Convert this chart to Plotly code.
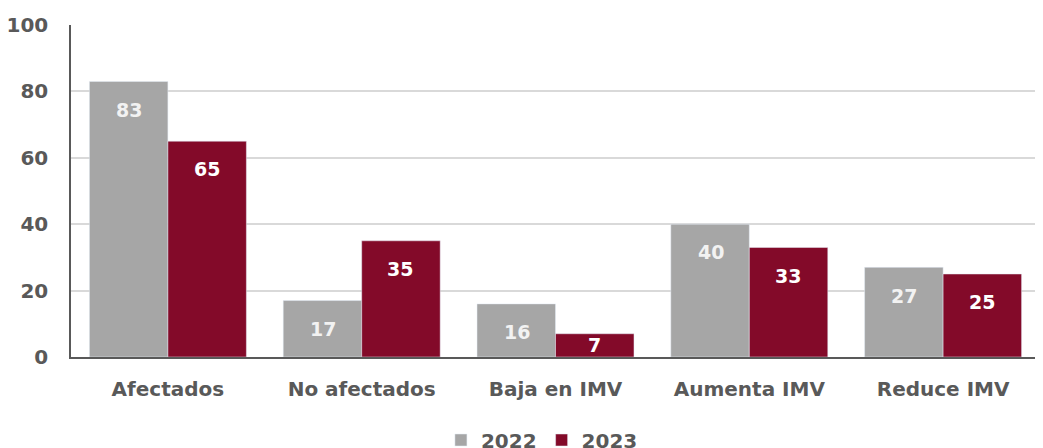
import plotly.graph_objects as go

categories = ["Afectados", "No afectados", "Baja en IMV", "Aumenta IMV", "Reduce IMV"]
values_2022 = [83, 17, 16, 40, 27]
values_2023 = [65, 35, 7, 33, 25]

gray = "#A6A6A6"
wine = "#830A29"
txt = "#595959"
font_family = "Century Gothic, DejaVu Sans, sans-serif"

fig = go.Figure()
fig.add_trace(go.Bar(x=categories, y=values_2022, name="2022", marker_color=gray,
                     offsetgroup="a"))
fig.add_trace(go.Bar(x=categories, y=values_2023, name="2023", marker_color=wine,
                     offsetgroup="b"))

# value labels placed a little below each bar top (clamped for short bars)
for i, cat in enumerate(categories):
    for v, shift, col in [(values_2022[i], -0.2, "#F2F2F2"), (values_2023[i], 0.2, "white")]:
        fig.add_annotation(x=i + shift, y=max(v - 8.5, 3.5), xref="x", yref="y",
                           text=str(v), showarrow=False,
                           font=dict(family=font_family, size=19, color=col, weight="bold"))

fig.update_layout(
    width=1035, height=440,
    margin=dict(l=63, r=3, t=17, b=91, autoexpand=False),
    plot_bgcolor="white", paper_bgcolor="white",
    barmode="group", bargap=0.19, bargroupgap=0,
    font=dict(family=font_family, color=txt, size=20, weight="bold"),
    legend=dict(orientation="h", x=0.486, xanchor="center", y=-0.25, yanchor="middle",
                font=dict(size=20, color=txt, weight="bold"), itemwidth=30),
    showlegend=True,
)
fig.update_xaxes(showline=True, linecolor=txt, linewidth=1.5, ticks="",
                 ticklabelstandoff=13, tickfont=dict(size=20))
fig.update_yaxes(range=[0, 100], dtick=20, showline=True, linecolor=txt, linewidth=1.5,
                 gridcolor="#D9D9D9", gridwidth=1.5, zeroline=False,
                 ticklabelstandoff=17, tickfont=dict(size=20))

fig.write_html("out.html")
